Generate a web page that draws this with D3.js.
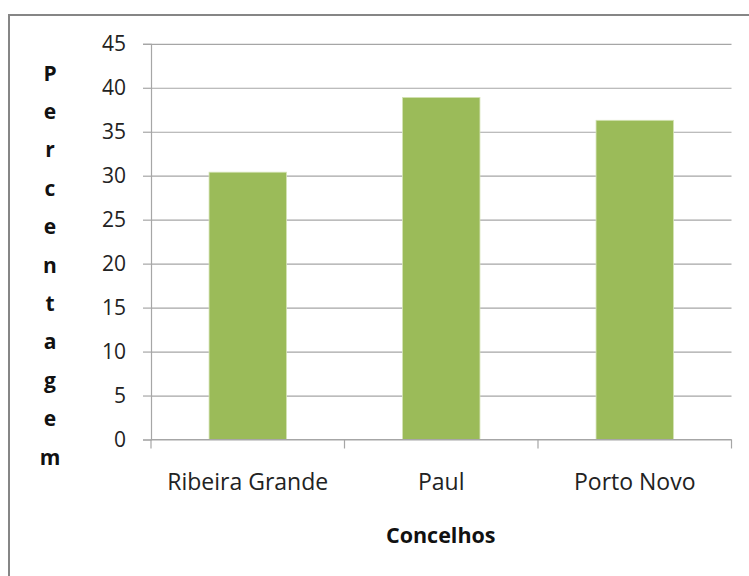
<!DOCTYPE html>
<html>
<head>
<meta charset="utf-8">
<script src="https://cdn.jsdelivr.net/npm/d3@7"></script>
<style>
  html, body { margin: 0; padding: 0; background: #fff; }
  svg { display: block; }
</style>
</head>
<body>
<svg id="chart" width="749" height="576"></svg>
<script>
// Percentage by municipality (concelho)
const categories = ["Ribeira Grande", "Paul", "Porto Novo"];
const values = [30.4, 38.9, 36.3];
const yTicks = [0, 5, 10, 15, 20, 25, 30, 35, 40, 45];
const yTitle = "Percentagem";
const xTitle = "Concelhos";

const svg = d3.select("#chart");
const font = "'Open Sans', 'DejaVu Sans', sans-serif";

// outer chart frame
svg.append("rect")
  .attr("x", 9).attr("y", 15)
  .attr("width", 760).attr("height", 600)
  .attr("fill", "#fff")
  .attr("stroke", "#868686")
  .attr("stroke-width", 2);

const plot = { left: 151, right: 731.5, top: 43.8, bottom: 439.5 };

const x = d3.scaleBand()
  .domain(categories)
  .range([plot.left, plot.right])
  .paddingInner(0.6)
  .paddingOuter(0.3);

const y = d3.scaleLinear()
  .domain([0, 45])
  .range([plot.bottom, plot.top]);

const grid = "#a6a6a6";

// horizontal gridlines
svg.append("g")
  .attr("transform", `translate(${plot.left},0)`)
  .call(d3.axisLeft(y).tickValues(yTicks).tickSize(-(plot.right - plot.left)).tickFormat(""))
  .call(g => g.select(".domain").remove())
  .call(g => g.selectAll(".tick line").attr("stroke", grid).attr("stroke-width", 1.2));

// value axis with short outside ticks
svg.append("g")
  .attr("transform", `translate(${plot.left},0)`)
  .call(d3.axisLeft(y).tickValues(yTicks).tickSize(8).tickPadding(17))
  .call(g => g.select(".domain").attr("stroke", grid).attr("stroke-width", 1.2))
  .call(g => g.selectAll(".tick line").attr("stroke", grid).attr("stroke-width", 1.2))
  .call(g => g.selectAll(".tick text")
    .attr("font-family", font).attr("font-size", 21).attr("fill", "#222"));

// bars
svg.append("g")
  .selectAll("rect")
  .data(categories.map((c, i) => ({ c, v: values[i] })))
  .join("rect")
  .attr("x", d => x(d.c))
  .attr("y", d => y(d.v))
  .attr("width", x.bandwidth())
  .attr("height", d => y(0) - y(d.v))
  .attr("fill", "#9bbb59")
  .attr("stroke", "#d4e3b5")
  .attr("stroke-width", 0.8);

// category axis: boundary ticks between bands
const bandEdges = categories.map(c => x(c) - x.step() * x.paddingInner() / 2).concat([plot.right]);
bandEdges[0] = plot.left;
svg.append("line")
  .attr("x1", plot.left).attr("x2", plot.right)
  .attr("y1", plot.bottom).attr("y2", plot.bottom)
  .attr("stroke", grid).attr("stroke-width", 1.2);
svg.append("g").selectAll("line")
  .data(bandEdges)
  .join("line")
  .attr("x1", d => d).attr("x2", d => d)
  .attr("y1", plot.bottom).attr("y2", plot.bottom + 9)
  .attr("stroke", grid).attr("stroke-width", 1.2);

svg.append("g").selectAll("text")
  .data(categories)
  .join("text")
  .attr("x", d => x(d) + x.bandwidth() / 2)
  .attr("y", 490)
  .attr("text-anchor", "middle")
  .attr("font-family", font)
  .attr("font-size", 23)
  .attr("fill", "#222")
  .text(d => d);

// axis titles
svg.append("text")
  .attr("x", x(categories[1]) + x.bandwidth() / 2 - 0.5)
  .attr("y", 542.5)
  .attr("text-anchor", "middle")
  .attr("font-family", font)
  .attr("font-weight", "bold")
  .attr("font-size", 21.5)
  .attr("fill", "#111")
  .text(xTitle);

// vertical title: one letter per line
svg.append("g").selectAll("text")
  .data(yTitle.split(""))
  .join("text")
  .attr("x", 50)
  .attr("y", (d, i) => 80.5 + i * 38.4)
  .attr("text-anchor", "middle")
  .attr("font-family", font)
  .attr("font-weight", "bold")
  .attr("font-size", 21)
  .attr("fill", "#111")
  .text(d => d);
</script>
</body>
</html>
